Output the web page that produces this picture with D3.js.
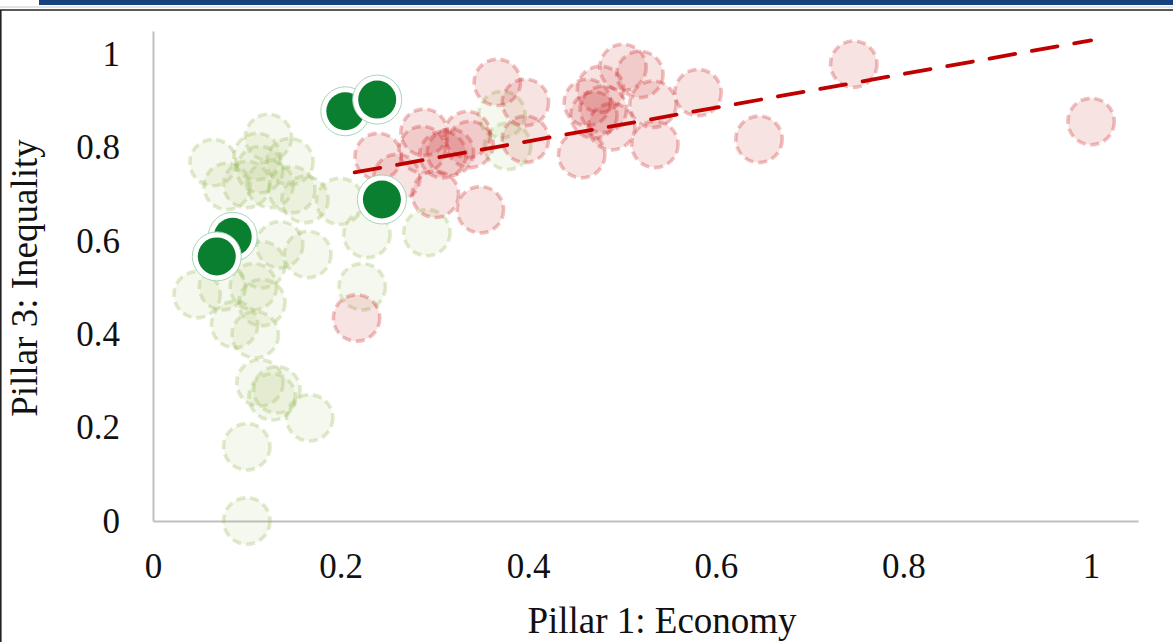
<!DOCTYPE html>
<html>
<head>
<meta charset="utf-8">
<script src="https://cdn.jsdelivr.net/npm/d3@7"></script>
<style>
  html, body { margin: 0; padding: 0; background: #fff; }
  svg { display: block; }
  text { font-family: "Liberation Serif", "DejaVu Serif", serif; fill: #111; }
</style>
</head>
<body>
<svg id="chart" width="1173" height="642"></svg>
<script>
// ---- data ----
const xTicks = [0, 0.2, 0.4, 0.6, 0.8, 1];
const yTicks = [0, 0.2, 0.4, 0.6, 0.8, 1];
const xTitle = "Pillar 1: Economy";
const yTitle = "Pillar 3: Inequality";

// other countries (light green)
const otherX = [0.064, 0.123, 0.111, 0.146, 0.079, 0.114, 0.125, 0.100, 0.148, 0.162, 0.199, 0.228, 0.292, 0.223, 0.165, 0.135, 0.116, 0.047, 0.074, 0.107, 0.116, 0.087, 0.109, 0.114, 0.132, 0.127, 0.167, 0.100, 0.100, 0.372, 0.378];
const otherY = [0.768, 0.822, 0.781, 0.770, 0.717, 0.753, 0.721, 0.721, 0.710, 0.689, 0.685, 0.614, 0.618, 0.502, 0.571, 0.592, 0.549, 0.485, 0.502, 0.502, 0.468, 0.421, 0.399, 0.296, 0.281, 0.266, 0.221, 0.159, 0.000, 0.871, 0.803];

// comparison group (pink)
const groupX = [0.367, 0.397, 0.289, 0.287, 0.335, 0.338, 0.317, 0.309, 0.397, 0.457, 0.301, 0.349, 0.463, 0.477, 0.480, 0.489, 0.501, 0.519, 0.533, 0.535, 0.581, 0.646, 0.747, 1.000, 0.240, 0.260, 0.217, 0.470];
const groupY = [0.940, 0.897, 0.833, 0.796, 0.828, 0.807, 0.790, 0.785, 0.818, 0.785, 0.700, 0.667, 0.897, 0.925, 0.882, 0.845, 0.972, 0.957, 0.893, 0.807, 0.918, 0.818, 0.979, 0.856, 0.781, 0.736, 0.435, 0.870];

// highlighted countries (dark green)
const focusX = [0.205, 0.239, 0.244, 0.085, 0.068];
const focusY = [0.878, 0.903, 0.689, 0.609, 0.567];

// trend line of the comparison group
const trendX = [0.215, 1.0];
const trendY = [0.747, 1.030];

// ---- drawing ----
const svg = d3.select("#chart");
const W = 1173, H = 642;

// frame decorations
svg.append("rect").attr("x", 39).attr("y", 0).attr("width", W - 39).attr("height", 5).attr("fill", "#16417c");
svg.append("line").attr("x1", 0).attr("x2", W).attr("y1", 7).attr("y2", 7).attr("stroke", "#c8c8c8").attr("stroke-width", 1);
svg.append("line").attr("x1", 0).attr("x2", W).attr("y1", 10).attr("y2", 10).attr("stroke", "#222").attr("stroke-width", 1.6);
svg.append("line").attr("x1", 0.8).attr("x2", 0.8).attr("y1", 10).attr("y2", H).attr("stroke", "#222").attr("stroke-width", 1.6);

const x = d3.scaleLinear().domain([0, 1.05]).range([153, 1138]);
const y = d3.scaleLinear().domain([0, 1.05]).range([521, 31]);

const fmt = d => String(d);

const xAxis = svg.append("g").attr("transform", `translate(0,${y(0)})`)
  .call(d3.axisBottom(x).tickValues(xTicks).tickFormat(fmt).tickSize(0).tickSizeOuter(0).tickPadding(32));
const yAxis = svg.append("g").attr("transform", `translate(${x(0)},0)`)
  .call(d3.axisLeft(y).tickValues(yTicks).tickFormat(fmt).tickSize(0).tickSizeOuter(0).tickPadding(33));

[xAxis, yAxis].forEach(g => {
  g.select(".domain").attr("stroke", "#bfbfbf").attr("stroke-width", 2);
  g.selectAll("text").attr("font-family", "Liberation Serif, serif").attr("font-size", 35).attr("fill", "#111");
});

const R = 25;
const plot = svg.append("g");

const other = otherX.map((v, i) => ({ x: v, y: otherY[i] }));
const group = groupX.map((v, i) => ({ x: v, y: groupY[i] }));
const focus = focusX.map((v, i) => ({ x: v, y: focusY[i] }));

plot.selectAll("circle.other").data(other).enter().append("circle")
  .attr("class", "other")
  .attr("cx", d => x(d.x)).attr("cy", d => y(d.y)).attr("r", R - 1.8)
  .attr("fill", "rgba(160,190,100,0.11)")
  .attr("stroke", "rgba(160,190,100,0.32)")
  .attr("stroke-width", 3.6)
  .attr("stroke-dasharray", "9,5");

plot.selectAll("circle.group").data(group).enter().append("circle")
  .attr("class", "group")
  .attr("cx", d => x(d.x)).attr("cy", d => y(d.y)).attr("r", R - 1.8)
  .attr("fill", "rgba(192,0,0,0.11)")
  .attr("stroke", "rgba(200,30,30,0.28)")
  .attr("stroke-width", 3.6)
  .attr("stroke-dasharray", "9,5");

const line = d3.line().x(d => x(d[0])).y(d => y(d[1]));
plot.append("path")
  .datum(trendX.map((v, i) => [v, trendY[i]]))
  .attr("d", line)
  .attr("fill", "none")
  .attr("stroke", "#c00000")
  .attr("stroke-width", 3.8)
  .attr("stroke-linecap", "round")
  .attr("stroke-dasharray", "26,17");

const fg = plot.selectAll("g.focus").data(focus).enter().append("g").attr("class", "focus")
  .attr("transform", d => `translate(${x(d.x)},${y(d.y)})`);
fg.append("circle").attr("r", 24.5).attr("fill", "#fff").attr("stroke", "#a8d5b5").attr("stroke-width", 1);
fg.append("circle").attr("r", 19).attr("fill", "#0b7f30");

// axis titles
svg.append("text").attr("x", 662).attr("y", 633).attr("text-anchor", "middle")
  .attr("font-size", 37).text(xTitle);
svg.append("text").attr("transform", `translate(37,${278}) rotate(-90)`).attr("text-anchor", "middle")
  .attr("font-size", 37).text(yTitle);
</script>
</body>
</html>
